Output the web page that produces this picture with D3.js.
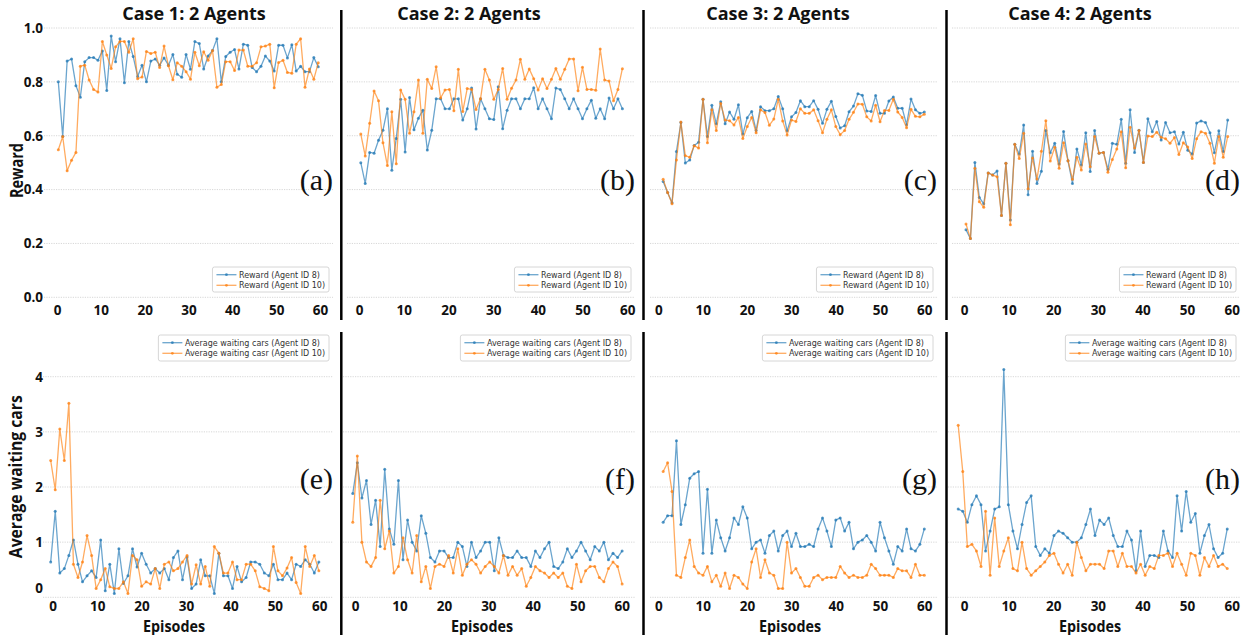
<!DOCTYPE html>
<html><head><meta charset="utf-8">
<script src="https://cdn.jsdelivr.net/npm/d3@7"></script>
<style>
body{margin:0;background:#fff}
svg{display:block}
</style>
</head><body>
<svg id="chart" width="1249" height="635"></svg>
<script>
// ---------- DATA ----------
const caseTitles = ["Case 1: 2 Agents", "Case 2: 2 Agents", "Case 3: 2 Agents", "Case 4: 2 Agents"];
const topLetters = ["(a)", "(b)", "(c)", "(d)"];
const bottomLetters = ["(e)", "(f)", "(g)", "(h)"];
const xTicks = [0, 10, 20, 30, 40, 50, 60];
const rewardTicks = [0, 0.2, 0.4, 0.6, 0.8, 1.0];
const waitTicks = [0, 1, 2, 3, 4];
const rewardLegend = ["Reward (Agent ID 8)", "Reward (Agent ID 10)"];
const waitLegendCase1 = ["Average waiting cars (Agent ID 8)", "Average waiting casr (Agent ID 10)"];
const waitLegend = ["Average waiting cars (Agent ID 8)", "Average waiting cars (Agent ID 10)"];
// episode of the first and last plotted point in each panel
const rewardFirstEp = [0.3, 0.4, 1.1, 0.45];
const rewardLastEp = [59.6, 58.9, 60, 59.1];
const waitFirstEp = [-0.45, -0.5, 1.1, -1.3];
const waitLastEp = [59.9, 60.1, 60, 59.0];

const rewardC1A8 = [0.80,0.597,0.877,0.885,0.786,0.743,0.875,0.89,0.89,0.88,
 0.915,0.768,0.97,0.875,0.96,0.797,0.95,0.894,0.82,0.862,
 0.80,0.877,0.885,0.862,0.889,0.862,0.902,0.828,0.817,0.902,
 0.847,0.95,0.942,0.848,0.896,0.916,0.96,0.80,0.894,0.91,
 0.92,0.848,0.94,0.936,0.853,0.838,0.858,0.896,0.877,0.84,
 0.936,0.936,0.889,0.938,0.84,0.858,0.838,0.838,0.89,0.856];
const rewardC1A10 = [0.548,0.597,0.47,0.509,0.538,0.858,0.862,0.807,0.772,0.762,
 0.95,0.90,0.85,0.93,0.95,0.95,0.91,0.96,0.812,0.818,
 0.913,0.905,0.91,0.853,0.933,0.86,0.808,0.871,0.858,0.838,
 0.81,0.91,0.86,0.912,0.88,0.916,0.78,0.79,0.875,0.875,
 0.842,0.918,0.918,0.858,0.858,0.871,0.93,0.933,0.94,0.778,
 0.872,0.88,0.835,0.832,0.94,0.96,0.78,0.848,0.81,0.871];
const rewardC2A8 = [0.50,0.423,0.538,0.535,0.583,0.62,0.70,0.472,0.59,0.735,
 0.54,0.742,0.622,0.665,0.695,0.547,0.62,0.737,0.737,0.70,
 0.70,0.737,0.737,0.658,0.70,0.777,0.625,0.737,0.70,0.663,
 0.66,0.782,0.626,0.695,0.737,0.737,0.70,0.737,0.737,0.778,
 0.70,0.737,0.70,0.663,0.777,0.772,0.737,0.70,0.737,0.70,
 0.663,0.70,0.732,0.665,0.70,0.663,0.74,0.70,0.737,0.70];
const rewardC2A10 = [0.606,0.525,0.646,0.766,0.73,0.574,0.489,0.689,0.496,0.77,
 0.735,0.609,0.689,0.807,0.609,0.81,0.775,0.856,0.74,0.77,
 0.772,0.693,0.847,0.69,0.775,0.772,0.697,0.737,0.847,0.807,
 0.735,0.772,0.85,0.735,0.776,0.807,0.884,0.81,0.848,0.812,
 0.77,0.812,0.775,0.81,0.85,0.81,0.847,0.885,0.885,0.767,
 0.854,0.772,0.772,0.769,0.922,0.807,0.803,0.73,0.772,0.849];
const rewardC3A8 = [0.43,0.389,0.351,0.541,0.649,0.499,0.51,0.564,0.576,0.735,
 0.597,0.713,0.644,0.726,0.644,0.688,0.661,0.715,0.606,0.667,
 0.69,0.619,0.708,0.693,0.693,0.70,0.746,0.70,0.618,0.67,
 0.686,0.73,0.708,0.708,0.73,0.698,0.646,0.698,0.728,0.671,
 0.629,0.637,0.689,0.71,0.756,0.75,0.692,0.69,0.749,0.683,
 0.683,0.729,0.744,0.702,0.702,0.641,0.736,0.696,0.683,0.688];
const rewardC3A10 = [0.438,0.389,0.347,0.51,0.651,0.526,0.52,0.563,0.554,0.735,
 0.574,0.696,0.619,0.72,0.658,0.656,0.64,0.668,0.59,0.634,
 0.668,0.611,0.696,0.686,0.639,0.662,0.735,0.655,0.603,0.658,
 0.653,0.70,0.683,0.683,0.696,0.656,0.611,0.661,0.696,0.634,
 0.604,0.619,0.661,0.687,0.718,0.717,0.67,0.655,0.713,0.652,
 0.694,0.694,0.735,0.688,0.668,0.63,0.698,0.672,0.67,0.68];
const rewardC4A8 = [0.251,0.218,0.501,0.371,0.347,0.462,0.454,0.469,0.304,0.498,
 0.287,0.568,0.532,0.64,0.381,0.542,0.423,0.468,0.619,0.537,
 0.572,0.495,0.616,0.507,0.423,0.551,0.491,0.611,0.467,0.619,
 0.535,0.538,0.475,0.572,0.568,0.661,0.498,0.696,0.538,0.62,
 0.501,0.663,0.615,0.653,0.584,0.649,0.611,0.615,0.569,0.613,
 0.546,0.532,0.647,0.655,0.649,0.611,0.537,0.618,0.541,0.658];
const rewardC4A10 = [0.272,0.218,0.479,0.355,0.334,0.462,0.454,0.448,0.304,0.498,
 0.269,0.568,0.515,0.609,0.403,0.517,0.439,0.542,0.656,0.506,
 0.557,0.479,0.574,0.507,0.438,0.52,0.473,0.569,0.485,0.597,
 0.535,0.538,0.464,0.512,0.551,0.615,0.481,0.631,0.554,0.619,
 0.501,0.599,0.597,0.613,0.594,0.589,0.572,0.593,0.53,0.574,
 0.558,0.515,0.589,0.615,0.609,0.572,0.498,0.597,0.52,0.597];

const waitC1A8 = [0.64,1.56,0.44,0.52,0.76,1.04,0.60,0.28,0.39,0.48,
 0.36,1.04,0.12,0.60,0.07,0.88,0.25,0.39,0.88,0.55,
 0.80,0.60,0.44,0.52,0.44,0.52,0.32,0.72,0.84,0.32,
 0.73,0.16,0.24,0.68,0.39,0.39,0.07,0.80,0.39,0.39,
 0.16,0.56,0.28,0.36,0.64,0.64,0.60,0.44,0.39,0.60,
 0.32,0.32,0.44,0.32,0.60,0.56,0.68,0.60,0.44,0.64];
const waitC1A10 = [2.48,1.95,3.05,2.48,3.52,0.60,0.36,0.64,1.12,0.76,
 0.16,0.32,0.52,0.19,0.16,0.16,0.28,0.07,0.76,0.68,
 0.20,0.28,0.24,0.52,0.16,0.60,0.64,0.48,0.52,0.64,
 0.76,0.24,0.59,0.24,0.56,0.20,0.92,0.80,0.44,0.44,
 0.64,0.32,0.32,0.60,0.60,0.48,0.19,0.16,0.12,0.92,
 0.48,0.39,0.53,0.72,0.27,0.07,0.92,0.56,0.76,0.48];
const waitC2A8 = [1.88,2.44,1.80,2.12,1.32,1.76,0.92,2.32,1.24,0.96,
 2.12,0.68,1.40,1.00,0.84,1.48,1.16,0.72,0.64,0.84,
 0.84,0.72,0.72,1.00,0.92,0.56,1.00,0.72,0.84,1.00,
 1.00,0.48,1.08,0.76,0.72,0.72,0.84,0.72,0.72,0.56,
 0.84,0.72,0.88,1.00,0.56,0.52,0.64,0.88,0.72,0.84,
 1.00,0.84,0.68,0.92,0.84,1.00,0.68,0.80,0.72,0.84];
const waitC2A10 = [1.36,2.56,1.00,0.64,0.56,0.72,1.76,0.88,1.20,0.44,
 0.56,1.08,0.68,0.44,1.12,0.28,0.56,0.16,0.56,0.60,
 0.56,0.76,0.44,0.88,0.40,0.60,0.68,0.60,0.44,0.56,
 0.64,0.56,0.44,0.76,0.40,0.56,0.40,0.52,0.20,0.36,
 0.56,0.48,0.44,0.36,0.44,0.36,0.44,0.20,0.16,0.60,
 0.28,0.48,0.56,0.56,0.36,0.28,0.52,0.64,0.56,0.24];
const waitC3A8 = [1.36,1.48,1.48,2.84,1.32,1.68,2.16,2.24,2.28,0.80,
 1.96,0.80,1.40,1.08,0.84,1.08,1.44,1.32,1.64,1.44,
 0.88,1.00,1.04,0.80,1.12,1.20,0.84,1.12,1.20,0.92,
 1.16,0.92,0.92,0.96,0.92,1.24,1.44,1.20,0.92,1.40,
 1.44,1.20,1.36,0.88,1.00,1.04,1.12,1.00,0.84,1.36,
 1.08,0.84,0.60,0.92,0.84,1.24,0.88,0.84,0.96,1.24];
const waitC3A10 = [2.28,2.44,1.92,0.40,0.36,0.72,1.04,0.56,0.44,0.40,
 0.56,0.28,0.40,0.20,0.44,0.16,0.40,0.36,0.24,0.16,
 0.64,0.88,0.36,0.68,0.44,0.40,0.16,0.16,1.00,0.44,
 0.52,0.36,0.20,0.20,0.36,0.40,0.32,0.36,0.36,0.36,
 0.56,0.44,0.36,0.40,0.36,0.36,0.40,0.60,0.52,0.40,
 0.40,0.40,0.36,0.52,0.48,0.48,0.36,0.60,0.40,0.40];
const waitC4A8 = [1.60,1.56,1.36,1.68,1.84,1.68,0.84,1.20,1.60,1.64,
 4.13,1.68,1.20,0.88,1.32,1.72,1.84,0.92,0.76,0.88,
 0.80,1.12,1.20,1.16,1.08,1.00,1.00,1.08,1.32,1.60,
 1.12,1.40,1.32,1.44,1.12,0.92,0.92,1.20,1.04,0.48,
 1.20,0.56,0.76,0.76,0.72,1.20,0.84,0.72,1.84,1.20,
 1.92,1.36,1.52,0.80,1.12,1.32,0.88,0.72,0.80,1.24];
const waitC4A10 = [3.12,2.28,0.92,0.96,0.84,0.56,1.56,0.40,1.44,0.56,
 0.84,1.08,0.52,0.48,1.00,0.52,0.40,0.48,0.56,0.64,
 0.76,0.80,0.60,0.44,0.60,0.40,1.00,0.72,0.48,0.60,
 0.60,0.60,0.52,0.84,0.84,0.56,0.80,0.56,0.56,0.44,
 0.60,0.40,0.56,0.52,0.76,0.76,0.80,0.56,0.80,0.60,
 0.40,0.80,0.76,0.40,0.72,0.56,0.76,0.56,0.60,0.52];

// ---------- LAYOUT ----------
const svg = d3.select("#chart");
const BLUE = "#1f77b4", ORANGE = "#ff7f0e";
const BOLD = "'Open Sans', 'DejaVu Sans', sans-serif";
const SMALL = "'DejaVu Sans', sans-serif";

const topX0 = [57, 359, 658.3, 964], topX60 = [320, 627.3, 924.3, 1231.7];
const botX0 = [52.7, 355, 658.3, 964], botX60 = [319.3, 621.7, 924.3, 1231.7];
const topGridL = [44, 347, 650, 952], botGridL = [43, 343, 650, 948];
const gridR = [333, 635, 937, 1240];
const titleCX = [194, 469, 778, 1080];
const episodesCX = [174, 482, 790, 1090];

const yTop = d3.scaleLinear().domain([0, 1]).range([297.3, 28]);
const yBot = d3.scaleLinear().domain([0, 4]).range([597.3, 376.7]);

const rewardSeries = [[rewardC1A8, rewardC1A10],[rewardC2A8, rewardC2A10],[rewardC3A8, rewardC3A10],[rewardC4A8, rewardC4A10]];
const waitSeries = [[waitC1A8, waitC1A10],[waitC2A8, waitC2A10],[waitC3A8, waitC3A10],[waitC4A8, waitC4A10]];

function drawPanel(p) {
  const g = svg.append("g");
  const x = d3.scaleLinear().domain([0, 60]).range([p.x0, p.x60]);
  // grid
  g.append("g").selectAll("line").data(p.ticks).join("line")
    .attr("x1", p.gl).attr("x2", p.gr)
    .attr("y1", d => p.y(d)).attr("y2", d => p.y(d))
    .attr("stroke", "#cdcdcd").attr("stroke-width", 0.8)
    .attr("stroke-dasharray", "1.2,1.2");
  // x axis
  const xa = g.append("g").attr("transform", `translate(0,${p.xAxisY})`)
    .call(d3.axisBottom(x).tickValues(xTicks).tickSize(0).tickPadding(0));
  xa.select(".domain").remove();
  xa.selectAll("text").attr("font-family", BOLD).attr("font-weight", 700)
    .attr("font-size", 13.5).attr("fill", "#111");
  // y axis
  if (p.showY) {
    const ya = g.append("g").attr("transform", `translate(43,0)`)
      .call(d3.axisLeft(p.y).tickValues(p.ticks).tickSize(0).tickPadding(0).tickFormat(p.fmt));
    ya.select(".domain").remove();
    ya.selectAll("text").attr("font-family", BOLD).attr("font-weight", 700)
      .attr("font-size", 13.5).attr("fill", "#111");
    if (p.zeroShift) ya.selectAll(".tick").filter(d => d === 0).select("text").attr("y", -p.zeroShift);
  }
  // series
  const cols = [BLUE, ORANGE];
  p.series.forEach((vals, k) => {
    const n = vals.length;
    const ep = i => p.first + i * (p.last - p.first) / (n - 1);
    const line = d3.line().x((d, i) => x(ep(i))).y(d => p.y(d));
    g.append("path").datum(vals).attr("d", line)
      .attr("fill", "none").attr("stroke", cols[k]).attr("stroke-opacity", 0.66)
      .attr("stroke-width", 1.3).attr("stroke-linejoin", "round");
    g.append("g").selectAll("circle").data(vals).join("circle")
      .attr("cx", (d, i) => x(ep(i))).attr("cy", d => p.y(d)).attr("r", 1.5)
      .attr("fill", cols[k]).attr("fill-opacity", 0.75);
  });
  // panel letter
  g.append("text").attr("x", p.gr).attr("y", p.letterY).attr("text-anchor", "end")
    .attr("font-family", "'Liberation Serif', 'Times New Roman', serif")
    .attr("font-size", 30).attr("fill", "#111").text(p.letter);
  // legend
  const lg = g.append("g");
  const box = lg.append("rect").attr("fill", "#fff").attr("stroke", "#cccccc")
    .attr("stroke-width", 0.8).attr("rx", 2);
  let maxW = 0;
  p.legend.forEach((lab, k) => {
    const cy = p.legY + 7.7 + k * 10.6;
    lg.append("line").attr("x1", 4).attr("x2", 24).attr("y1", cy).attr("y2", cy)
      .attr("stroke", cols[k]).attr("stroke-opacity", 0.66).attr("stroke-width", 1.3);
    lg.append("circle").attr("cx", 14).attr("cy", cy).attr("r", 1.4).attr("fill", cols[k]).attr("fill-opacity", 0.75);
    const t = lg.append("text").attr("x", 26.5).attr("y", cy + 2.9)
      .attr("font-family", SMALL).attr("font-size", 8).attr("fill", "#333").text(lab);
    maxW = Math.max(maxW, t.node().getComputedTextLength());
  });
  const bw = 26.5 + maxW + 4;
  box.attr("x", 0).attr("y", p.legY).attr("width", bw).attr("height", p.legH);
  lg.attr("transform", `translate(${p.gr - 4 - bw},0)`);
}

for (let c = 0; c < 4; c++) {
  drawPanel({x0: topX0[c], x60: topX60[c], gl: topGridL[c], gr: gridR[c], y: yTop,
    ticks: rewardTicks, fmt: d3.format(".1f"), showY: c === 0, xAxisY: 305,
    series: rewardSeries[c], first: rewardFirstEp[c], last: rewardLastEp[c],
    letter: topLetters[c], letterY: 190, legend: rewardLegend, legY: 267, legH: 25});
  drawPanel({x0: botX0[c], x60: botX60[c], gl: botGridL[c], gr: gridR[c], y: yBot,
    ticks: waitTicks, fmt: d3.format("d"), showY: c === 0, xAxisY: 601.5, zeroShift: 9,
    series: waitSeries[c], first: waitFirstEp[c], last: waitLastEp[c],
    letter: bottomLetters[c], letterY: 489, legend: c === 0 ? waitLegendCase1 : waitLegend, legY: 335, legH: 26});
  svg.append("text").attr("x", titleCX[c]).attr("y", 20).attr("text-anchor", "middle")
    .attr("font-family", BOLD).attr("font-weight", 700).attr("font-size", 18).attr("fill", "#111")
    .text(caseTitles[c]);
  svg.append("text").attr("x", episodesCX[c]).attr("y", 631.5).attr("text-anchor", "middle")
    .attr("font-family", BOLD).attr("font-weight", 700).attr("font-size", 16).attr("fill", "#111")
    .attr("textLength", 62).attr("lengthAdjust", "spacingAndGlyphs").text("Episodes");
}

// axis titles
svg.append("text").attr("transform", "translate(22.5,170.5) rotate(-90)").attr("text-anchor", "middle")
  .attr("font-family", BOLD).attr("font-weight", 700).attr("font-size", 17).attr("fill", "#111")
  .attr("textLength", 55).attr("lengthAdjust", "spacingAndGlyphs").text("Reward");
svg.append("text").attr("transform", "translate(21.5,476.7) rotate(-90)").attr("text-anchor", "middle")
  .attr("font-family", BOLD).attr("font-weight", 700).attr("font-size", 17).attr("fill", "#111")
  .attr("textLength", 163).attr("lengthAdjust", "spacingAndGlyphs").text("Average waiting cars");

// separators
[341.3, 643.5, 946.5].forEach(sx => {
  svg.append("line").attr("x1", sx).attr("x2", sx).attr("y1", 10).attr("y2", 320)
    .attr("stroke", "#000").attr("stroke-width", 2.5);
  svg.append("line").attr("x1", sx).attr("x2", sx).attr("y1", 332).attr("y2", 635)
    .attr("stroke", "#000").attr("stroke-width", 2.5);
});
</script>
</body></html>
